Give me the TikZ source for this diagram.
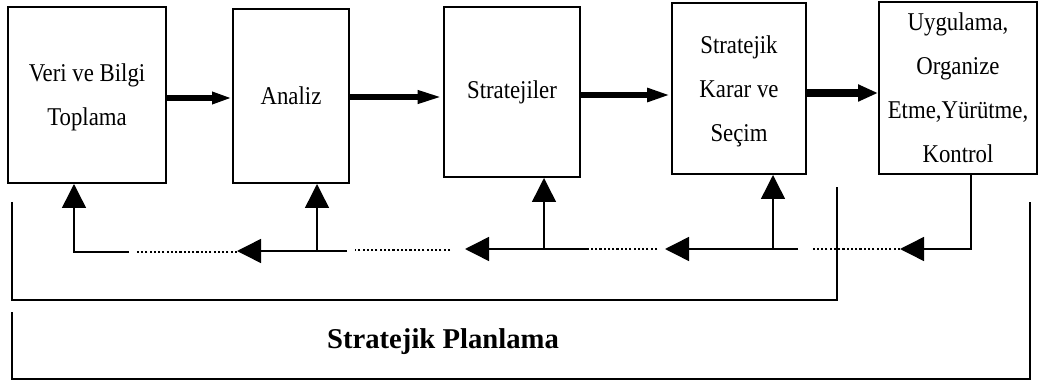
\documentclass[tikz,border=0pt]{standalone}
\usepackage{fontspec}
\setmainfont{Liberation Serif}
\newfontfamily\boxfont[FakeStretch=0.89]{Liberation Serif}
\usetikzlibrary{arrows.meta}
\begin{document}
\begin{tikzpicture}[x=0.75pt,y=-0.75pt,
  box/.style={draw, line width=1.5pt, inner sep=0pt, align=center, font=\boxfont\fontsize{19.2}{33}\selectfont},
  fb/.style={line width=1.1pt, -{Triangle[length=18pt,width=18pt]}},
  dotl/.style={line width=1.1pt, dash pattern=on 1.6pt off 1.6pt},
  br/.style={line width=1.5pt},
  lbl/.style={font=\bfseries\fontsize{21.5}{25}\selectfont}
]
\useasboundingbox (0,0) rectangle (1046,381);

\node[box, minimum width=118.5pt, minimum height=132pt, text depth=-2pt] (b1) at (87,95) {Veri ve Bilgi\\Toplama};
\node[box, minimum width=87pt, minimum height=130.5pt] (b2) at (291,96) {Analiz};
\node[box, minimum width=102pt, minimum height=127.5pt] (b3) at (512,92) {Stratejiler};
\node[box, minimum width=100.5pt, minimum height=128.25pt, text depth=-4pt] (b4) at (739,88.5) {Stratejik\\Karar ve\\Seçim};
\node[box, minimum width=118.5pt, minimum height=129pt, text depth=-5pt] (b5) at (958,88) {Uygulama,\\Organize\\Etme,Yürütme,\\Kontrol};

% main flow arrows
\draw[line width=4pt, -{Triangle[length=15pt,width=8.5pt]}] (b1.east |- 0,98) -- (b2.west |- 0,98);
\draw[line width=4.5pt, -{Triangle[length=19pt,width=9pt]}] (b2.east |- 0,97) -- (b3.west |- 0,97);
\draw[line width=4.8pt, -{Triangle[length=18pt,width=9.5pt]}] (b3.east |- 0,95) -- (b4.west |- 0,95);
\draw[line width=6pt, -{Triangle[length=15pt,width=12pt]}] (b4.east |- 0,93) -- (b5.west |- 0,93);

% feedback coordinates
\coordinate (s5) at (971,0 |- b5.south);
\coordinate (t1) at (900,249);
\coordinate (d1) at (813,249);
\coordinate (s2) at (798,249);
\coordinate (t2) at (665,249);
\coordinate (j4) at (773,249);
\coordinate (d2a) at (657,249);
\coordinate (d2b) at (588,249);
\coordinate (t3) at (465,249);
\coordinate (j3) at (544,249);
\coordinate (d3a) at (450,250);
\coordinate (d3b) at (355,250);
\coordinate (s4) at (347,251);
\coordinate (t4) at (237,251);
\coordinate (j2) at (317,251);
\coordinate (d4a) at (237,252);
\coordinate (d4b) at (137,252);
\coordinate (s6) at (129,252);
\coordinate (c6) at (74,252);

\draw[fb] (s5) |- (t1);
\draw[dotl] (t1) -- (d1);
\draw[fb] (s2) -- (t2);
\draw[fb] (j4) -- (j4 |- b4.south);
\draw[dotl] (d2a) -- (d2b);
\draw[fb] (d2b) -- (t3);
\draw[fb] (j3) -- (j3 |- b3.south);
\draw[dotl] (d3a) -- (d3b);
\draw[fb] (s4) -- (t4);
\draw[fb] (j2) -- (j2 |- b2.south);
\draw[dotl] (d4a) -- (d4b);
\draw[fb] (s6) -- (c6) -- (c6 |- b1.south);

% brackets
\coordinate (i1) at (12,202);
\coordinate (i2) at (12,300);
\coordinate (i3) at (837,300);
\coordinate (i4) at (837,187);
\draw[br] (i1) -- (i2) -- (i3) -- (i4);
\coordinate (o1) at (12,312);
\coordinate (o2) at (12,379);
\coordinate (o3) at (1030,379);
\coordinate (o4) at (1030,202);
\draw[br] (o1) -- (o2) -- (o3) -- (o4);

\node[lbl] (title) at (443,342) {Stratejik Planlama};
\end{tikzpicture}
\end{document}
